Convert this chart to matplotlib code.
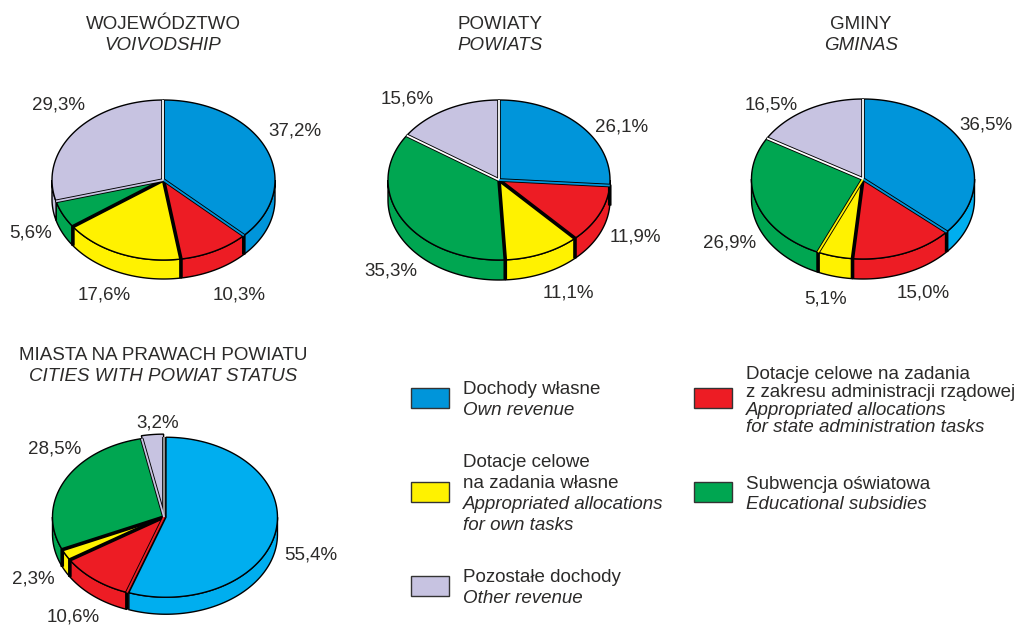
import numpy as np
import matplotlib
matplotlib.use('Agg')
import matplotlib.pyplot as plt
from matplotlib.patches import Polygon, Rectangle

plt.rcParams['font.family'] = ['Liberation Sans', 'DejaVu Sans']

# shares in percent, clockwise from 12 o'clock: own, state tasks, own tasks, education, other
woj = [37.2, 10.3, 17.6, 5.6, 29.3]
pow_ = [26.1, 11.9, 11.1, 35.3, 15.6]
gm = [36.5, 15.0, 5.1, 26.9, 16.5]
mnpp = [55.4, 10.6, 2.3, 28.5, 3.2]

BLUE = '#0095da'
LIGHT_BLUE = '#00aeef'
RED = '#ed1c24'
YELLOW = '#fff200'
GREEN = '#00a651'
LILAC = '#c7c3e1'
INK = '#2b2a29'
FS = 13.5

fig = plt.figure(figsize=(10.18, 6.25), dpi=100)
ax = fig.add_axes([0, 0, 1, 1])
ax.set_xlim(0, 1018)
ax.set_ylim(625, 0)
ax.axis('off')


def arc(cx, cy, rx, ry, t0, t1):
    t = np.radians(np.linspace(t0, t1, max(int(abs(t1 - t0)) + 2, 3)))
    return np.column_stack([cx + rx * np.sin(t), cy - ry * np.cos(t)])


def pie3d(vals, cols, wall_cols, cx, cy, rx, ry, depth, explode, seps):
    edges = np.cumsum([0] + list(vals)) / sum(vals) * 360
    for i in range(len(vals)):
        t0, t1 = edges[i], edges[i + 1]
        mid = np.radians((t0 + t1) / 2)
        x = cx + explode[i] * np.sin(mid)
        y = cy - explode[i] * np.cos(mid) * ry / rx
        # side wall, only the front half of the disc shows
        a, b = max(t0, 90), min(t1, 270)
        if b > a:
            up = arc(x, y, rx, ry, a, b)
            down = arc(x, y + depth, rx, ry, a, b)
            ax.add_patch(Polygon(np.vstack([up, down[::-1]]), fc=wall_cols[i], ec='black', lw=1.0, zorder=2))
        top = np.vstack([[x, y], arc(x, y, rx, ry, t0, t1)])
        ax.add_patch(Polygon(top, fc=cols[i], ec='black', lw=1.0, zorder=3))
    # heavy joints between slices, some with a sliver of colour inside
    for t, inner in zip(edges[:-1], seps):
        r = np.radians(t)
        rim_x = cx + rx * np.sin(r)
        rim_y = cy - ry * np.cos(r)
        xs = [cx, rim_x]
        ys = [cy, rim_y]
        if 90 < t < 250:
            xs.append(rim_x)
            ys.append(rim_y + depth)
        ax.plot(xs, ys, color='black', lw=2.6, solid_capstyle='butt', zorder=4)
        if inner:
            ax.plot(xs[:2], ys[:2], color=inner, lw=1.3, solid_capstyle='butt', zorder=5)


def pct(v):
    return f'{v:.1f}%'.replace('.', ',')


def put_labels(vals, pos):
    for v, (x, y) in zip(vals, pos):
        ax.text(x, y, pct(v), fontsize=FS, color=INK, ha='center', va='baseline')


def title(x, y, pl, en):
    ax.text(x, y, pl, fontsize=FS, color=INK, ha='center', va='baseline')
    ax.text(x, y + 21, en, fontsize=FS, color=INK, ha='center', va='baseline', style='italic')


title(163, 29, 'WOJEWÓDZTWO', 'VOIVODSHIP')
title(500, 29, 'POWIATY', 'POWIATS')
title(861, 29, 'GMINY', 'GMINAS')
title(163, 360, 'MIASTA NA PRAWACH POWIATU', 'CITIES WITH POWIAT STATUS')

cols = [BLUE, RED, YELLOW, GREEN, LILAC]
pie3d(woj, cols, cols, 163.5, 180, 111.5, 80, 19, [0, 0, 0, 0, 0],
      ['white', BLUE, None, None, LILAC])
pie3d(pow_, cols, cols, 499, 180, 111, 80, 20, [0, 0, 0, 0, 0],
      ['white', BLUE, None, None, 'white'])
pie3d(gm, cols, [LIGHT_BLUE, RED, YELLOW, GREEN, LILAC], 863, 179, 111.5, 80, 20, [0, 0, 0, 0, 0],
      ['white', BLUE, None, YELLOW, 'white'])
city_cols = [LIGHT_BLUE, RED, YELLOW, GREEN, LILAC]
pie3d(mnpp, city_cols, city_cols, 164, 517, 111.5, 80, 17, [2, 0, 0, 0, 4],
      ['#a0a0a0', RED, None, None, LILAC])

put_labels(woj, [(295, 135), (239, 299), (104, 300), (31, 238), (59, 110)])
put_labels(pow_, [(622, 132), (635, 241), (568, 298), (391, 276), (407, 104)])
put_labels(gm, [(986, 130), (923, 298), (826, 303), (730, 247), (771, 110)])
put_labels(mnpp, [(311, 559), (73, 622), (33, 584), (55, 454), (158, 427)])

# legend
for x, y, c in [(411, 388, BLUE), (411, 482, YELLOW), (411, 576, LILAC), (694, 388, RED), (694, 482, GREEN)]:
    ax.add_patch(Rectangle((x, y), 38.5, 20, fc=c, ec='#333333', lw=1.0))

legend_left = [
    ('Dochody własne', 394, False), ('Own revenue', 415, True),
    ('Dotacje celowe', 467, False), ('na zadania własne', 488, False),
    ('Appropriated allocations', 509, True), ('for own tasks', 530, True),
    ('Pozostałe dochody', 582, False), ('Other revenue', 603, True),
]
legend_right = [
    ('Dotacje celowe na zadania', 379, False), ('z zakresu administracji rządowej', 397, False),
    ('Appropriated allocations', 415, True), ('for state administration tasks', 432, True),
    ('Subwencja oświatowa', 489, False), ('Educational subsidies', 509, True),
]
for x, rows in [(463, legend_left), (746, legend_right)]:
    for s, y, it in rows:
        ax.text(x, y, s, fontsize=FS, color=INK, ha='left', va='baseline', style='italic' if it else 'normal')

fig.savefig('out.png', dpi=100)
